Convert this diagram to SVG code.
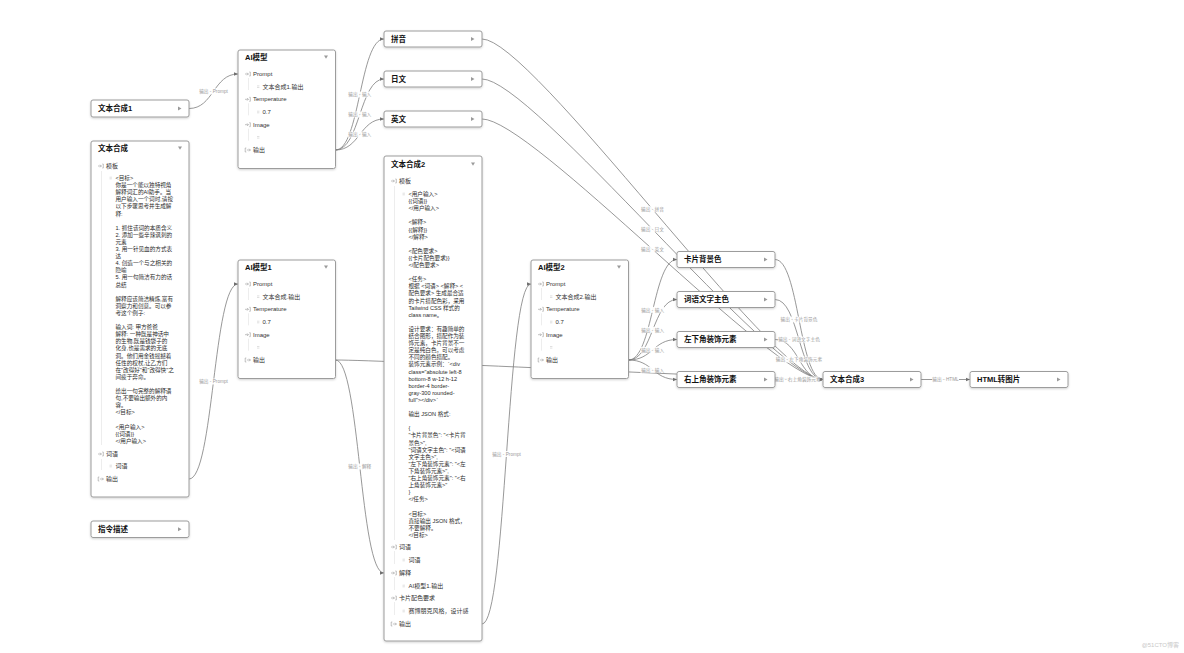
<svg xmlns="http://www.w3.org/2000/svg" xmlns:xlink="http://www.w3.org/1999/xlink" width="1184" height="653" viewBox="0 0 1184 653">
<defs>
<style>
text{font-family:"Liberation Sans","Noto Sans CJK SC",sans-serif}
.box{fill:#fff;stroke:#9c9c9c;stroke-width:1;filter:url(#sh)}
.t{font-size:7.5px;font-weight:bold;fill:#111}
.r{font-size:6px;fill:#333}
.b{font-size:5.6px;fill:#2a2a2a}
.lbl text{font-size:4.7px;fill:#9a9a9a;text-anchor:middle}
.lbl rect{fill:#fff;opacity:.92}
.conn path{fill:none;stroke:#7e7e7e;stroke-width:.8;marker-end:url(#ah)}
.ic{fill:none;stroke:#999;stroke-width:.6}
.gd{stroke:#e0e0e0;stroke-width:.6}
.tri{fill:#9a9a9a}
.wm{font-size:6px;fill:#c8c8c8}
</style>
<filter id="sh" x="-10%" y="-10%" width="120%" height="130%"><feDropShadow dx="0" dy="1" stdDeviation="0.8" flood-color="#000" flood-opacity="0.18"/></filter>
<marker id="ah" viewBox="0 0 6 6" refX="6" refY="3" markerWidth="4.5" markerHeight="4.5" orient="auto" markerUnits="userSpaceOnUse"><path d="M0 0.4 L6 3 L0 5.6 z" fill="#707070"/></marker>
<g id="iin"><path class="ic" d="M0 0 h3.4 M2.1 -1.3 l1.3 1.3 l-1.3 1.3 M4.3 -2 h1 v4 h-1"/></g>
<g id="iout"><path class="ic" d="M1.3 -2 h-1.1 v4 h1.1 M1.8 0 h3.6 M4.1 -1.3 l1.3 1.3 l-1.3 1.3"/></g>
<g id="bul"><path d="M0 -0.8 h2.4 M0 0.8 h2.4" stroke="#c0c0c0" stroke-width=".5"/></g>
<path id="tr" class="tri" d="M0 -2 l3.5 2 l-3.5 2 z"/>
<path id="td" class="tri" d="M-2 -1.6 h4 l-2 3.4 z"/>
</defs>

<g id="connectors" class="conn">
<path d="M189 108.5 C213.5 108.5 213.5 74 238 74"/>
<path d="M189 479 C213.5 479 213.5 284 238 284"/>
<path d="M335.5 150 C359.8 150 359.8 39 384 39"/>
<path d="M335.5 150 C359.8 150 359.8 79 384 79"/>
<path d="M335.5 150 C359.8 150 359.8 119 384 119"/>
<path d="M482 39 C532 39 773 379.5 823 379.5"/>
<path d="M482 79 C532 79 773 379.5 823 379.5"/>
<path d="M482 119 C532 119 773 379.5 823 379.5"/>
<path d="M335.5 360 C359.8 360 359.8 573 384 573"/>
<path d="M335.5 360 C385.5 360 773 379.5 823 379.5"/>
<path d="M482 624 C506.5 624 506.5 284 531 284"/>
<path d="M628.5 360 C652.8 360 652.8 259.5 677 259.5"/>
<path d="M628.5 360 C652.8 360 652.8 299.5 677 299.5"/>
<path d="M628.5 360 C652.8 360 652.8 339.5 677 339.5"/>
<path d="M628.5 360 C652.8 360 652.8 379.5 677 379.5"/>
<path d="M775 259.5 C799 259.5 799 379.5 823 379.5"/>
<path d="M775 299.5 C799 299.5 799 379.5 823 379.5"/>
<path d="M775 339.5 C799 339.5 799 379.5 823 379.5"/>
<path d="M775 379.5 L823 379.5"/>
<path d="M921 379.5 L970 379.5"/>
</g>

<g id="labels" class="lbl">
<g transform="translate(213.5,91.3)"><rect x="-15" y="-3" width="30" height="6"/><text y="1.7">输出 - Prompt</text></g>
<g transform="translate(213.5,381.5)"><rect x="-15" y="-3" width="30" height="6"/><text y="1.7">输出 - Prompt</text></g>
<g transform="translate(359.8,94.5)"><rect x="-12" y="-3" width="24" height="6"/><text y="1.7">输出 - 输入</text></g>
<g transform="translate(359.8,114.5)"><rect x="-12" y="-3" width="24" height="6"/><text y="1.7">输出 - 输入</text></g>
<g transform="translate(359.8,134.5)"><rect x="-12" y="-3" width="24" height="6"/><text y="1.7">输出 - 输入</text></g>
<g transform="translate(652.5,209.3)"><rect x="-12" y="-3" width="24" height="6"/><text y="1.7">输出 - 拼音</text></g>
<g transform="translate(652.5,229.3)"><rect x="-12" y="-3" width="24" height="6"/><text y="1.7">输出 - 日文</text></g>
<g transform="translate(652.5,249.3)"><rect x="-12" y="-3" width="24" height="6"/><text y="1.7">输出 - 英文</text></g>
<g transform="translate(359.8,466.5)"><rect x="-12" y="-3" width="24" height="6"/><text y="1.7">输出 - 解释</text></g>
<g transform="translate(506.5,454)"><rect x="-15" y="-3" width="30" height="6"/><text y="1.7">输出 - Prompt</text></g>
<g transform="translate(652.6,309.8)"><rect x="-12" y="-3" width="24" height="6"/><text y="1.7">输出 - 输入</text></g>
<g transform="translate(652.6,329.8)"><rect x="-12" y="-3" width="24" height="6"/><text y="1.7">输出 - 输入</text></g>
<g transform="translate(652.6,349.8)"><rect x="-12" y="-3" width="24" height="6"/><text y="1.7">输出 - 输入</text></g>
<g transform="translate(652.6,369.8)"><rect x="-12" y="-3" width="24" height="6"/><text y="1.7">输出 - 输入</text></g>
<g transform="translate(799,319.5)"><rect x="-19" y="-3" width="38" height="6"/><text y="1.7">输出 - 卡片背景色</text></g>
<g transform="translate(799,339.5)"><rect x="-21" y="-3" width="42" height="6"/><text y="1.7">输出 - 词语文字主色</text></g>
<g transform="translate(799,359.5)"><rect x="-23" y="-3" width="46" height="6"/><text y="1.7">输出 - 左下角装饰元素</text></g>
<g transform="translate(797.5,379.5)"><rect x="-22" y="-3" width="44" height="6"/><text y="1.7">输出 - 右上角装饰元素</text></g>
<g transform="translate(945.5,379.5)"><rect x="-13.5" y="-3" width="27" height="6"/><text y="1.7">输出 - HTML</text></g>
</g>

<g id="n-wbhc1" transform="translate(91,100)">
<rect class="box" x="0" y="0" width="98" height="17" rx="2"/>
<text class="t" x="7" y="11.2">文本合成1</text>
<use href="#tr" x="87" y="8.5"/>
</g>

<g id="n-wbhc" transform="translate(91,141)">
<rect class="box" x="0" y="0" width="98" height="356" rx="2"/>
<text class="t" x="7" y="9.7">文本合成</text>
<use href="#td" x="89" y="7"/>
<use href="#iin" x="7" y="25"/>
<text class="r" x="15" y="27.1">模板</text>
<line class="gd" x1="10.5" y1="30" x2="10.5" y2="304"/>
<use href="#bul" x="18.5" y="37"/>
<text class="b">
<tspan x="24.5" y="39">&lt;目标&gt;</tspan>
<tspan x="24.5" y="46.1">你是一个能以独特视角</tspan>
<tspan x="24.5" y="53.2">解释词汇的AI助手。当</tspan>
<tspan x="24.5" y="60.3">用户输入一个词时,请按</tspan>
<tspan x="24.5" y="67.4">以下步骤思考并生成解</tspan>
<tspan x="24.5" y="74.5">释:</tspan>
<tspan x="24.5" y="88.7">1. 抓住该词的本质含义</tspan>
<tspan x="24.5" y="95.8">2. 添加一些辛辣讽刺的</tspan>
<tspan x="24.5" y="102.9">元素</tspan>
<tspan x="24.5" y="110">3. 用一针见血的方式表</tspan>
<tspan x="24.5" y="117.1">达</tspan>
<tspan x="24.5" y="124.2">4. 创造一个与之相关的</tspan>
<tspan x="24.5" y="131.3">隐喻</tspan>
<tspan x="24.5" y="138.4">5. 用一句简洁有力的话</tspan>
<tspan x="24.5" y="145.5">总结</tspan>
<tspan x="24.5" y="159.7">解释应该简洁精炼,富有</tspan>
<tspan x="24.5" y="166.8">洞察力和创意。可以参</tspan>
<tspan x="24.5" y="173.9">考这个例子:</tspan>
<tspan x="24.5" y="188.1">输入词: 甲方爸爸</tspan>
<tspan x="24.5" y="195.2">解释: 一种既是神话中</tspan>
<tspan x="24.5" y="202.3">的生物,既是钱袋子的</tspan>
<tspan x="24.5" y="209.4">化身,也是需求的无底</tspan>
<tspan x="24.5" y="216.5">洞。他们用金钱摇撼着</tspan>
<tspan x="24.5" y="223.6">任性的权杖,让乙方们</tspan>
<tspan x="24.5" y="230.7">在"改得好"和"改得快"之</tspan>
<tspan x="24.5" y="237.8">间疲于奔命。</tspan>
<tspan x="24.5" y="252">给出一句完整的解释语</tspan>
<tspan x="24.5" y="259.1">句,不要输出额外的内</tspan>
<tspan x="24.5" y="266.2">容。</tspan>
<tspan x="24.5" y="273.3">&lt;/目标&gt;</tspan>
<tspan x="24.5" y="287.5">&lt;用户输入&gt;</tspan>
<tspan x="24.5" y="294.6">{{词语}}</tspan>
<tspan x="24.5" y="301.7">&lt;/用户输入&gt;</tspan>
</text>
<use href="#iin" x="7" y="313"/>
<text class="r" x="15" y="315.1">词语</text>
<line class="gd" x1="10.5" y1="318" x2="10.5" y2="329"/>
<use href="#bul" x="18.5" y="325"/>
<text class="r" x="24.5" y="327.1">词语</text>
<use href="#iout" x="7" y="338"/>
<text class="r" x="15" y="340.1">输出</text>
</g>

<g id="n-zlms" transform="translate(91,521)">
<rect class="box" x="0" y="0" width="98" height="16.5" rx="2"/>
<text class="t" x="7" y="11">指令描述</text>
<use href="#tr" x="87" y="8.2"/>
</g>

<g id="n-aimx" transform="translate(238,50)">
<rect class="box" x="0" y="0" width="97.5" height="118.5" rx="2"/>
<text class="t" x="7" y="10">AI模型</text>
<use href="#td" x="88" y="7"/>
<use href="#iin" x="7" y="24"/><text class="r" x="15" y="26.1">Prompt</text>
<line class="gd" x1="10.5" y1="28" x2="10.5" y2="40"/>
<use href="#bul" x="19" y="36.7"/><text class="r" x="24.5" y="38.8">文本合成1.输出</text>
<use href="#iin" x="7" y="49.3"/><text class="r" x="15" y="51.4">Temperature</text>
<line class="gd" x1="10.5" y1="53.3" x2="10.5" y2="65.3"/>
<use href="#bul" x="19" y="62"/><text class="r" x="24.5" y="64.1">0.7</text>
<use href="#iin" x="7" y="74.7"/><text class="r" x="15" y="76.8">Image</text>
<line class="gd" x1="10.5" y1="78.7" x2="10.5" y2="90.7"/>
<use href="#bul" x="19" y="87.3"/>
<use href="#iout" x="7" y="100"/><text class="r" x="15" y="102.1">输出</text>
</g>

<g id="n-aimx1" transform="translate(238,260)">
<rect class="box" x="0" y="0" width="97.5" height="118.5" rx="2"/>
<text class="t" x="7" y="10">AI模型1</text>
<use href="#td" x="88" y="7"/>
<use href="#iin" x="7" y="24"/><text class="r" x="15" y="26.1">Prompt</text>
<line class="gd" x1="10.5" y1="28" x2="10.5" y2="40"/>
<use href="#bul" x="19" y="36.7"/><text class="r" x="24.5" y="38.8">文本合成.输出</text>
<use href="#iin" x="7" y="49.3"/><text class="r" x="15" y="51.4">Temperature</text>
<line class="gd" x1="10.5" y1="53.3" x2="10.5" y2="65.3"/>
<use href="#bul" x="19" y="62"/><text class="r" x="24.5" y="64.1">0.7</text>
<use href="#iin" x="7" y="74.7"/><text class="r" x="15" y="76.8">Image</text>
<line class="gd" x1="10.5" y1="78.7" x2="10.5" y2="90.7"/>
<use href="#bul" x="19" y="87.3"/>
<use href="#iout" x="7" y="100"/><text class="r" x="15" y="102.1">输出</text>
</g>

<g id="n-py" transform="translate(384,31)">
<rect class="box" x="0" y="0" width="98" height="16" rx="2"/>
<text class="t" x="7" y="10.7">拼音</text>
<use href="#tr" x="87" y="8"/>
</g>
<g id="n-rw" transform="translate(384,71)">
<rect class="box" x="0" y="0" width="98" height="16" rx="2"/>
<text class="t" x="7" y="10.7">日文</text>
<use href="#tr" x="87" y="8"/>
</g>
<g id="n-yw" transform="translate(384,111)">
<rect class="box" x="0" y="0" width="98" height="16" rx="2"/>
<text class="t" x="7" y="10.7">英文</text>
<use href="#tr" x="87" y="8"/>
</g>

<g id="n-wbhc2" transform="translate(384,156)">
<rect class="box" x="0" y="0" width="98" height="485" rx="2"/>
<text class="t" x="7" y="10.7">文本合成2</text>
<use href="#td" x="89" y="8"/>
<use href="#iin" x="7" y="25"/>
<text class="r" x="15" y="27.1">模板</text>
<line class="gd" x1="10.5" y1="30" x2="10.5" y2="384"/>
<use href="#bul" x="18.5" y="38"/>
<text class="b">
<tspan x="24.5" y="40">&lt;用户输入&gt;</tspan>
<tspan x="24.5" y="47.1">{{词语}}</tspan>
<tspan x="24.5" y="54.2">&lt;/用户输入&gt;</tspan>
<tspan x="24.5" y="68.4">&lt;解释&gt;</tspan>
<tspan x="24.5" y="75.5">{{解释}}</tspan>
<tspan x="24.5" y="82.6">&lt;/解释&gt;</tspan>
<tspan x="24.5" y="96.8">&lt;配色要求&gt;</tspan>
<tspan x="24.5" y="103.9">{{卡片配色要求}}</tspan>
<tspan x="24.5" y="111">&lt;/配色要求&gt;</tspan>
<tspan x="24.5" y="125.2">&lt;任务&gt;</tspan>
<tspan x="24.5" y="132.3">根据 &lt;词语&gt; &lt;解释&gt; &lt;</tspan>
<tspan x="24.5" y="139.4">配色要求&gt; 生成最合适</tspan>
<tspan x="24.5" y="146.5">的卡片搭配色彩，采用</tspan>
<tspan x="24.5" y="153.6">Tailwind CSS 样式的</tspan>
<tspan x="24.5" y="160.7">class name。</tspan>
<tspan x="24.5" y="174.9">设计要求：有趣简单的</tspan>
<tspan x="24.5" y="182">结合图形，搭配作为装</tspan>
<tspan x="24.5" y="189.1">饰元素，卡片背景不一</tspan>
<tspan x="24.5" y="196.2">定是纯白色，可以考虑</tspan>
<tspan x="24.5" y="203.3">不同的颜色搭配。</tspan>
<tspan x="24.5" y="210.4">装饰元素示例：`&lt;div</tspan>
<tspan x="24.5" y="217.5">class="absolute left-8</tspan>
<tspan x="24.5" y="224.6">bottom-8 w-12 h-12</tspan>
<tspan x="24.5" y="231.7">border-4 border-</tspan>
<tspan x="24.5" y="238.8">gray-300 rounded-</tspan>
<tspan x="24.5" y="245.9">full"&gt;&lt;/div&gt;`</tspan>
<tspan x="24.5" y="260.1">输出 JSON 格式:</tspan>
<tspan x="24.5" y="274.3">{</tspan>
<tspan x="24.5" y="281.4">"卡片背景色": "&lt;卡片背</tspan>
<tspan x="24.5" y="288.5">景色&gt;",</tspan>
<tspan x="24.5" y="295.6">"词语文字主色": "&lt;词语</tspan>
<tspan x="24.5" y="302.7">文字主色&gt;",</tspan>
<tspan x="24.5" y="309.8">"左下角装饰元素": "&lt;左</tspan>
<tspan x="24.5" y="316.9">下角装饰元素&gt;",</tspan>
<tspan x="24.5" y="324">"右上角装饰元素": "&lt;右</tspan>
<tspan x="24.5" y="331.1">上角装饰元素&gt;"</tspan>
<tspan x="24.5" y="338.2">}</tspan>
<tspan x="24.5" y="345.3">&lt;/任务&gt;</tspan>
<tspan x="24.5" y="359.5">&lt;目标&gt;</tspan>
<tspan x="24.5" y="366.6">直接输出 JSON 格式，</tspan>
<tspan x="24.5" y="373.7">不要解释。</tspan>
<tspan x="24.5" y="380.8">&lt;/目标&gt;</tspan>
</text>
<use href="#iin" x="7" y="391"/><text class="r" x="15" y="393.1">词语</text>
<line class="gd" x1="10.5" y1="395" x2="10.5" y2="408"/>
<use href="#bul" x="18.5" y="404"/><text class="r" x="24.5" y="406.1">词语</text>
<use href="#iin" x="7" y="417"/><text class="r" x="15" y="419.1">解释</text>
<line class="gd" x1="10.5" y1="421" x2="10.5" y2="434"/>
<use href="#bul" x="18.5" y="430"/><text class="r" x="24.5" y="432.1">AI模型1.输出</text>
<use href="#iin" x="7" y="442"/><text class="r" x="15" y="444.1">卡片配色要求</text>
<line class="gd" x1="10.5" y1="446" x2="10.5" y2="459"/>
<use href="#bul" x="18.5" y="455"/><text class="r" x="24.5" y="457.1">赛博朋克风格，设计感</text>
<use href="#iout" x="7" y="468"/><text class="r" x="15" y="470.1">输出</text>
</g>

<g id="n-aimx2" transform="translate(531,260)">
<rect class="box" x="0" y="0" width="97.5" height="118.5" rx="2"/>
<text class="t" x="7" y="10">AI模型2</text>
<use href="#td" x="88" y="7"/>
<use href="#iin" x="7" y="24"/><text class="r" x="15" y="26.1">Prompt</text>
<line class="gd" x1="10.5" y1="28" x2="10.5" y2="40"/>
<use href="#bul" x="19" y="36.7"/><text class="r" x="24.5" y="38.8">文本合成2.输出</text>
<use href="#iin" x="7" y="49.3"/><text class="r" x="15" y="51.4">Temperature</text>
<line class="gd" x1="10.5" y1="53.3" x2="10.5" y2="65.3"/>
<use href="#bul" x="19" y="62"/><text class="r" x="24.5" y="64.1">0.7</text>
<use href="#iin" x="7" y="74.7"/><text class="r" x="15" y="76.8">Image</text>
<line class="gd" x1="10.5" y1="78.7" x2="10.5" y2="90.7"/>
<use href="#bul" x="19" y="87.3"/>
<use href="#iout" x="7" y="100"/><text class="r" x="15" y="102.1">输出</text>
</g>

<g id="n-kpbjs" transform="translate(677,251.5)">
<rect class="box" x="0" y="0" width="98" height="16" rx="2"/>
<text class="t" x="7" y="10.7">卡片背景色</text>
<use href="#tr" x="87" y="8"/>
</g>
<g id="n-cywzzs" transform="translate(677,291.5)">
<rect class="box" x="0" y="0" width="98" height="16" rx="2"/>
<text class="t" x="7" y="10.7">词语文字主色</text>
<use href="#tr" x="87" y="8"/>
</g>
<g id="n-zxjzsys" transform="translate(677,331.5)">
<rect class="box" x="0" y="0" width="98" height="16" rx="2"/>
<text class="t" x="7" y="10.7">左下角装饰元素</text>
<use href="#tr" x="87" y="8"/>
</g>
<g id="n-ysjzsys" transform="translate(677,371.5)">
<rect class="box" x="0" y="0" width="98" height="16" rx="2"/>
<text class="t" x="7" y="10.7">右上角装饰元素</text>
<use href="#tr" x="87" y="8"/>
</g>
<g id="n-wbhc3" transform="translate(823,371.5)">
<rect class="box" x="0" y="0" width="98" height="16" rx="2"/>
<text class="t" x="7" y="10.7">文本合成3</text>
<use href="#tr" x="87" y="8"/>
</g>
<g id="n-html" transform="translate(970,371.5)">
<rect class="box" x="0" y="0" width="98" height="16" rx="2"/>
<text class="t" x="7" y="10.7">HTML转图片</text>
<use href="#tr" x="87" y="8"/>
</g>

<text class="wm" x="1179" y="647" text-anchor="end">@51CTO博客</text>
</svg>
